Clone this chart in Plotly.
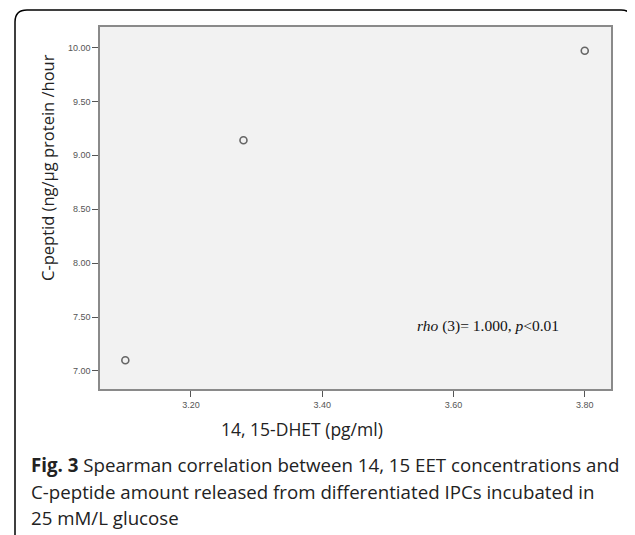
import plotly.graph_objects as go

# Data
dhet = [3.10, 3.28, 3.80]
cpeptide = [7.10, 9.14, 9.97]
x_ticks = [3.20, 3.40, 3.60, 3.80]
y_ticks = [7.00, 7.50, 8.00, 8.50, 9.00, 9.50, 10.00]

# the page has an 8px body margin, so the figure is drawn 8px smaller
OFF = 8
W, H = 635 - OFF, 535 - OFF
# plot area in window pixels: x 100..611, y 27.5..389
L, T = 100 - OFF, 27 - OFF
pw, ph = 511, 362
R = W - L - pw
B = H - T - ph

def px(x):
    return (x - OFF - L) / pw

def py(y):
    return (T + ph - (y - OFF)) / ph

fig = go.Figure()
fig.add_trace(go.Scatter(
    x=dhet, y=cpeptide, mode="markers",
    marker=dict(symbol="circle-open", size=7, color="#666666", line=dict(width=1.6, color="#666666")),
    showlegend=False, hoverinfo="x+y"))

axis_common = dict(showgrid=False, zeroline=False, showline=True, mirror=True,
                   linecolor="#8a8a8a", linewidth=1.5, ticks="outside", ticklen=6,
                   tickcolor="#555555", tickwidth=1,
                   tickfont=dict(family="Liberation Sans, Arial", size=9, color="#555555"))

fig.update_xaxes(range=[3.0614, 3.840], tickvals=x_ticks,
                 ticktext=[f"{v:.2f}" for v in x_ticks], **axis_common)
fig.update_yaxes(range=[6.833, 10.19], tickvals=y_ticks,
                 ticktext=[f"{v:.2f}" for v in y_ticks], **axis_common)

# outer rounded frame (open at bottom)
r = 12
x0, y0, x1 = 15, 10, 633
path = (f"M {px(x0)},{py(545)} L {px(x0)},{py(y0 + r)} "
        f"Q {px(x0)},{py(y0)} {px(x0 + r)},{py(y0)} "
        f"L {px(x1 - r)},{py(y0)} Q {px(x1)},{py(y0)} {px(x1)},{py(y0 + r)} "
        f"L {px(x1)},{py(545)}")
shapes = [dict(type="path", xref="paper", yref="paper", path=path,
               line=dict(color="black", width=1.5), layer="above")]

annotations = [
    dict(text="C-peptid (ng/µg protein /hour", x=px(48), y=py(168), xref="paper", yref="paper",
         textangle=-90, showarrow=False, xanchor="center", yanchor="middle",
         font=dict(family="Open Sans", size=16.5, color="#222222")),
    dict(text="14, 15-DHET (pg/ml)", x=px(302), y=py(429), xref="paper", yref="paper",
         showarrow=False, xanchor="center", yanchor="middle",
         font=dict(family="Open Sans", size=17.5, color="#222222")),
    dict(text="<i>rho</i> (3)= 1.000, <i>p</i><0.01", x=px(415), y=py(326), xref="paper", yref="paper",
         showarrow=False, xanchor="left", yanchor="middle",
         font=dict(family="Liberation Serif, Times New Roman", size=15.5, color="#111111")),
]
caption = ["<b>Fig. 3</b> Spearman correlation between 14, 15 EET concentrations and",
           "C-peptide amount released from differentiated IPCs incubated in",
           "25 mM/L glucose"]
for i, line in enumerate(caption):
    annotations.append(dict(text=line, x=px(29), y=py(465 + 26 * i), xref="paper", yref="paper",
                            showarrow=False, xanchor="left", yanchor="middle",
                            font=dict(family="Open Sans", size=18.7, color="#222222")))

fig.update_layout(width=W, height=H, margin=dict(l=L, r=R, t=T, b=B),
                  paper_bgcolor="white", plot_bgcolor="#f2f2f2",
                  shapes=shapes, annotations=annotations)

fig.write_html("out.html")
